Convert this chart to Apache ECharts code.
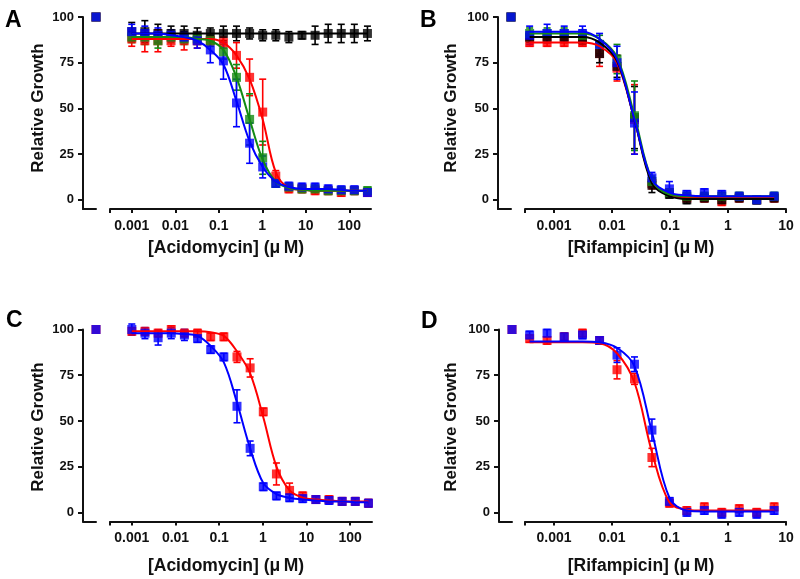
<!DOCTYPE html>
<html>
<head>
<meta charset="utf-8">
<script src="https://cdn.jsdelivr.net/npm/echarts@6/dist/echarts.min.js"></script>
<style>
  html, body { margin: 0; padding: 0; background: #fff; }
  #chart { width: 800px; height: 579px; }
</style>
</head>
<body>
<div id="chart"></div>
<script>
// concentrations (uM)
var concAcid = [0.001, 0.002, 0.004, 0.008, 0.016, 0.032, 0.064, 0.128, 0.256, 0.512, 1.024, 2.048, 4.096, 8.19, 16.4, 32.8, 65.5, 131, 262];
var concRif = [0.00038, 0.00076, 0.0015, 0.0031, 0.0061, 0.0122, 0.0244, 0.0488, 0.0977, 0.195, 0.391, 0.781, 1.5625, 3.125, 6.25];

// x tick labels
var tickAcid = [0.001, 0.01, 0.1, 1, 10, 100];
var labelAcid = ['0.001', '0.01', '0.1', '1', '10', '100'];
var tickRif = [0.001, 0.01, 0.1, 1, 10];
var labelRif = ['0.001', '0.01', '0.1', '1', '10'];
var yTicks = [0, 25, 50, 75, 100];

// untreated control (plotted left of the axis break)
var controlValue = 100;

// panel A
var aBlackMean = [92, 92, 91, 91, 91, 90, 91, 91, 91, 91, 90, 90, 89, 90, 90, 91, 91, 91, 91];
var aBlackErr = [5, 6, 5, 4, 4, 4, 3, 4, 4, 3, 3, 3, 3, 2, 5, 5, 5, 5, 4];
var aBlackFit = [91, 91, 91, 91, 91, 91, 91, 91, 91, 91, 91, 91, 91, 91, 91, 91, 91, 91, 91];
var aRedMean = [88, 87, 87, 87, 87, 87, 87, 86, 79, 67, 48, 13, 6, 6, 5, 5, 4, 5, 4];
var aRedErr = [4, 6, 6, 3, 5, 4, 3, 3, 7, 10, 18, 3, 2, 2, 2, 2, 2, 2, 2];
var aRedFit = [88, 88, 88, 88, 88, 88, 88, 86, 79, 66, 44, 15, 6.5, 5.5, 5, 5, 5, 5, 5];
var aGreenMean = [89, 89, 87, 89, 88, 88, 87, 81, 67, 44, 23, 9, 7, 6, 6, 5, 5, 5, 5];
var aGreenErr = [3, 4, 4, 3, 3, 3, 3, 4, 7, 14, 9, 2, 2, 2, 2, 2, 2, 2, 2];
var aGreenFit = [89, 89, 89, 89, 89, 88, 87, 82, 67, 44, 22, 10, 6.5, 5.5, 5, 5, 5, 5, 5];
var aBlueMean = [92, 91, 90, 90, 89, 87, 82, 76, 53, 31, 18, 9, 7.5, 7, 7, 6, 5.5, 5.5, 4];
var aBlueErr = [4, 4, 4, 3, 3, 4, 7, 10, 13, 11, 6, 2, 2, 2, 2, 2, 2, 2, 2];
var aBlueFit = [91, 91, 91, 90, 89, 87, 82, 74, 54, 32, 18, 10, 7, 6, 6, 6, 5.5, 5, 5];

// panel B
var bRedMean = [86, 86, 86, 86, 80, 72, 44, 9, 4, 1, 1, -1, 1, 0, 1];
var bRedErr = [2, 2, 2, 2, 7, 7, 19, 3, 2, 2, 2, 2, 2, 2, 2];
var bRedFit = [86, 86, 86, 86, 84, 75, 44, 10, 3, 1, 1, 1, 1, 1, 1];
var bBlackMean = [89, 89, 89, 88, 80, 73, 45, 8, 3, 0, 1, 0, 1, 0, 1];
var bBlackErr = [3, 3, 3, 3, 5, 6, 17, 4, 2, 2, 2, 2, 2, 2, 2];
var bBlackFit = [89, 89, 89, 89, 86, 76, 44, 9, 2, 0.5, 0.5, 0.5, 0.5, 0.5, 0.5];
var bGreenMean = [91, 91, 91, 90, 85, 77, 46, 10, 4, 2, 2, 2, 2, 0, 2];
var bGreenErr = [3, 3, 3, 3, 5, 8, 19, 3, 2, 2, 2, 2, 2, 2, 2];
var bGreenFit = [91, 91, 91, 91, 88, 78, 46, 11, 3, 2, 2, 2, 2, 2, 2];
var bBlueMean = [90, 91, 91, 91, 85, 75, 42, 12, 6, 3, 4, 3, 2, 0, 2];
var bBlueErr = [5, 5, 4, 4, 6, 9, 17, 3, 4, 2, 2, 2, 2, 2, 2];
var bBlueFit = [92, 92, 92, 92, 88, 77, 44, 11, 4, 2.5, 2, 2, 2, 2, 2];

// panel C
var cRedMean = [99, 99, 98, 100, 98, 98, 96, 96, 85, 79, 55, 21, 12, 9, 7, 7, 6, 6, 5];
var cRedErr = [2, 2, 2, 2, 2, 2, 2, 2, 3, 5, 2, 6, 4, 2, 2, 2, 2, 2, 2];
var cRedFit = [99, 99, 99, 99, 99, 99, 98.5, 96.5, 88, 76, 52, 25, 12, 8, 7, 6.5, 6, 6, 6];
var cBlueMean = [100, 98, 95.5, 98, 97, 95, 89, 85, 58, 35, 14, 9, 8, 7.5, 7, 6.5, 6, 6, 5];
var cBlueErr = [3, 3, 4, 3, 3, 2, 2, 2, 9, 4, 2, 2, 2, 2, 2, 2, 2, 2, 2];
var cBlueFit = [98, 98, 98, 98, 97.5, 96.5, 91, 82, 60, 35, 16, 10, 8, 7, 6.5, 6, 6, 5.5, 5.5];

// panel D
var dRedMean = [95, 94, 96, 98, 94, 78, 73, 30, 5, 1, 3, 0, 2, 0, 3];
var dRedErr = [2, 2, 2, 2, 2, 5, 3, 5, 2, 2, 2, 2, 2, 2, 2];
var dRedFit = [93, 93, 93, 93, 92.5, 87, 71, 33, 5.5, 1.5, 1, 1, 1, 1, 1];
var dBlueMean = [97, 98, 96, 97, 94, 86, 81, 45, 6, 0, 1, -1, 0, -1, 1];
var dBlueErr = [2, 2, 2, 2, 2, 4, 4, 6, 2, 2, 2, 2, 2, 2, 2];
var dBlueFit = [93.5, 93.5, 93.5, 93.5, 93, 90, 80, 44, 8, 1, 0.5, 0.5, 0.5, 0.5, 0.5];

var RED = '#ff0000', GREEN = '#138a13', BLUE = '#0000ff', BLACK = '#000000';
var FONT = '"Liberation Sans", Arial, sans-serif';
var INK = '#111';

var panels = [
    {letter: 'A', lx: 5, ly: 9, top: 17, ctrlLeft: 83, mainLeft: 110, mainWidth: 261,
     xmin: -3.5, xmax: 2.5, conc: concAcid, ticks: tickAcid, labels: labelAcid,
     xTitle: '[Acidomycin] (\u03bc\u2009M)', xtx: 226, xty: 248, ytx: 38, yty: 108,
     groups: [[BLACK, aBlackMean, aBlackErr, aBlackFit], [RED, aRedMean, aRedErr, aRedFit],
              [GREEN, aGreenMean, aGreenErr, aGreenFit], [BLUE, aBlueMean, aBlueErr, aBlueFit]]},
    {letter: 'B', lx: 420, ly: 9, top: 17, ctrlLeft: 498, mainLeft: 525, mainWidth: 261,
     xmin: -3.5, xmax: 1, conc: concRif, ticks: tickRif, labels: labelRif,
     xTitle: '[Rifampicin] (\u03bc\u2009M)', xtx: 641, xty: 248, ytx: 451, yty: 108,
     groups: [[RED, bRedMean, bRedErr, bRedFit], [BLACK, bBlackMean, bBlackErr, bBlackFit],
              [GREEN, bGreenMean, bGreenErr, bGreenFit], [BLUE, bBlueMean, bBlueErr, bBlueFit]]},
    {letter: 'C', lx: 6, ly: 309, top: 329.5, ctrlLeft: 83, mainLeft: 110, mainWidth: 262,
     xmin: -3.5, xmax: 2.5, conc: concAcid, ticks: tickAcid, labels: labelAcid,
     xTitle: '[Acidomycin] (\u03bc\u2009M)', xtx: 226, xty: 566, ytx: 38, yty: 427,
     groups: [[RED, cRedMean, cRedErr, cRedFit], [BLUE, cBlueMean, cBlueErr, cBlueFit]]},
    {letter: 'D', lx: 421, ly: 310, top: 329.5, ctrlLeft: 499, mainLeft: 525, mainWidth: 261,
     xmin: -3.5, xmax: 1, conc: concRif, ticks: tickRif, labels: labelRif,
     xTitle: '[Rifampicin] (\u03bc\u2009M)', xtx: 641, xty: 566, ytx: 451, yty: 427,
     groups: [[RED, dRedMean, dRedErr, dRedFit], [BLUE, dBlueMean, dBlueErr, dBlueFit]]}
];

// error bars with caps
function errRender(params, api) {
    var x = api.value(0), y = api.value(1), e = api.value(2);
    var hi = api.coord([x, y + e]);
    var lo = api.coord([x, y - e]);
    var w = 3.5;
    var st = {stroke: api.visual('color'), lineWidth: 1.6};
    return {
        type: 'group',
        children: [
            {type: 'line', shape: {x1: hi[0], y1: hi[1], x2: lo[0], y2: lo[1]}, style: st},
            {type: 'line', shape: {x1: hi[0] - w, y1: hi[1], x2: hi[0] + w, y2: hi[1]}, style: st},
            {type: 'line', shape: {x1: lo[0] - w, y1: lo[1], x2: lo[0] + w, y2: lo[1]}, style: st}
        ]
    };
}

var grids = [], xAxes = [], yAxes = [], series = [], graphics = [];

panels.forEach(function (p, i) {
    var height = 192;
    var ci = i * 2, mi = i * 2 + 1;
    // control grid (short axis stub left of the break)
    grids.push({left: p.ctrlLeft, top: p.top, width: 13, height: height});
    grids.push({left: p.mainLeft, top: p.top, width: p.mainWidth, height: height});

    xAxes.push({
        gridIndex: ci, type: 'value', min: 0, max: 1,
        axisLine: {onZero: false, lineStyle: {color: INK, width: 2}},
        axisTick: {show: false}, axisLabel: {show: false}, splitLine: {show: false}
    });
    var tickLogs = p.ticks.map(function (t) { return Math.log10(t); });
    xAxes.push({
        gridIndex: mi, type: 'value', min: p.xmin, max: p.xmax,
        axisLine: {onZero: false, lineStyle: {color: INK, width: 2}},
        axisTick: {customValues: [p.xmin].concat(tickLogs), length: 4, lineStyle: {color: INK, width: 2}},
        axisLabel: {
            customValues: tickLogs, margin: 10, color: INK,
            fontFamily: FONT, fontWeight: 'bold', fontSize: 14,
            formatter: function (v) {
                for (var k = 0; k < tickLogs.length; k++) {
                    if (Math.abs(tickLogs[k] - v) < 1e-6) return p.labels[k];
                }
                return '';
            }
        },
        splitLine: {show: false}
    });

    yAxes.push({
        gridIndex: ci, type: 'value', min: -5, max: 100,
        axisLine: {show: true, onZero: false, lineStyle: {color: INK, width: 2}},
        axisTick: {show: true, customValues: yTicks, length: 5, lineStyle: {color: INK, width: 2}},
        axisLabel: {customValues: yTicks, margin: 9, color: INK, fontFamily: FONT, fontWeight: 'bold', fontSize: 13},
        splitLine: {show: false}
    });
    yAxes.push({gridIndex: mi, type: 'value', min: -5, max: 100, show: false, splitLine: {show: false}});

    p.groups.forEach(function (g) {
        var color = g[0], mean = g[1], err = g[2], fit = g[3];
        series.push({
            type: 'line', xAxisIndex: mi, yAxisIndex: mi, smooth: 0.35, showSymbol: false, silent: true,
            lineStyle: {color: color, width: 2}, itemStyle: {color: color},
            data: p.conc.map(function (c, k) { return [Math.log10(c), fit[k]]; })
        });
        series.push({
            type: 'custom', xAxisIndex: mi, yAxisIndex: mi, silent: true,
            renderItem: errRender, itemStyle: {color: color},
            encode: {x: 0, y: 1},
            data: p.conc.map(function (c, k) { return [Math.log10(c), mean[k], err[k]]; })
        });
        series.push({
            type: 'scatter', xAxisIndex: mi, yAxisIndex: mi, symbol: 'rect', symbolSize: 9, silent: true,
            itemStyle: {color: color},
            data: p.conc.map(function (c, k) { return [Math.log10(c), mean[k]]; })
        });
        series.push({
            type: 'scatter', xAxisIndex: ci, yAxisIndex: ci, symbol: 'rect', symbolSize: 9, silent: true,
            itemStyle: {color: color}, clip: false,
            data: [[1, controlValue]]
        });
    });

    graphics.push({type: 'text', left: p.lx, top: p.ly,
        style: {text: p.letter, font: 'bold 23px ' + FONT, fill: '#000'}});
    graphics.push({type: 'text', x: p.xtx, y: p.xty,
        style: {text: p.xTitle, font: 'bold 17.5px ' + FONT, fill: INK, align: 'center', verticalAlign: 'middle'}});
    graphics.push({type: 'text', x: p.ytx, y: p.yty, rotation: Math.PI / 2,
        style: {text: 'Relative Growth', font: 'bold 17px ' + FONT, fill: INK, align: 'center', verticalAlign: 'middle'}});
});

var chart = echarts.init(document.getElementById('chart'));
chart.setOption({
    animation: false,
    backgroundColor: '#fff',
    grid: grids,
    xAxis: xAxes,
    yAxis: yAxes,
    series: series,
    graphic: graphics
});
</script>
</body>
</html>
